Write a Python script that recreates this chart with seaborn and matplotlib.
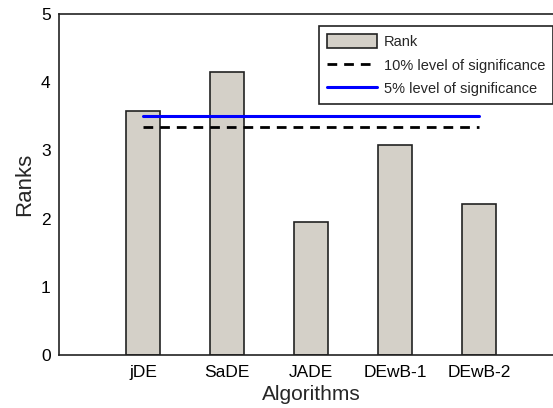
import pandas as pd
import matplotlib
matplotlib.use("Agg")
import matplotlib.pyplot as plt
import seaborn as sns
from matplotlib.patches import Patch
from matplotlib.lines import Line2D

algorithms = ["jDE", "SaDE", "JADE", "DEwB-1", "DEwB-2"]
ranks = [3.58, 4.15, 1.95, 3.08, 2.21]
level_10 = 3.34
level_5 = 3.51

sns.set_style("white")
plt.rcParams["font.family"] = ["Liberation Sans", "DejaVu Sans"]

df = pd.DataFrame({"Algorithm": algorithms, "Rank": ranks})

fig = plt.figure(figsize=(5.53, 4.08), dpi=100)
ax = fig.add_axes([59 / 553, 1 - 355 / 408, 504 / 553, 341 / 408])

sns.barplot(data=df, x="Algorithm", y="Rank", color="#d4d0c8", saturation=1,
            width=0.4, edgecolor="#222222", linewidth=1.2, ax=ax)

# significance lines from first to last algorithm
ax.plot([0, len(algorithms) - 1], [level_10, level_10], color="black",
        linestyle=(0, (3.5, 2.5)), linewidth=2)
ax.plot([0, len(algorithms) - 1], [level_5, level_5], color="blue",
        linewidth=2.2)

ax.set_xlim(-1, 5)
ax.set_ylim(0, 5)
ax.set_yticks(range(6))
ax.set_xlabel("Algorithms", fontsize=15, labelpad=4)
ax.set_ylabel("Ranks", fontsize=16, labelpad=4)
ax.tick_params(axis="both", direction="in", length=3, labelsize=12.5,
               colors="#222222", labelcolor="black", pad=6)
ax.tick_params(axis="x", length=0, pad=7)
for s in ax.spines.values():
    s.set_color("#222222")
    s.set_linewidth(1.2)

handles = [Patch(facecolor="#d4d0c8", edgecolor="#222222", linewidth=1.2),
           Line2D([], [], color="black", linestyle=(0, (3.5, 2.5)), linewidth=2),
           Line2D([], [], color="blue", linewidth=2.2)]
labels = ["Rank", "10% level of significance", "5% level of significance"]
leg = ax.legend(handles, labels, loc="upper right", fontsize=10.5,
                bbox_to_anchor=(494 / 504, 1 - 12 / 341), fancybox=False,
                framealpha=1, edgecolor="#222222", handlelength=3.4,
                handleheight=1.1, handletextpad=0.45, labelspacing=0.6,
                borderpad=0.55, borderaxespad=0)
leg.get_frame().set_linewidth(1.2)

fig.savefig("out.png", dpi=100)
